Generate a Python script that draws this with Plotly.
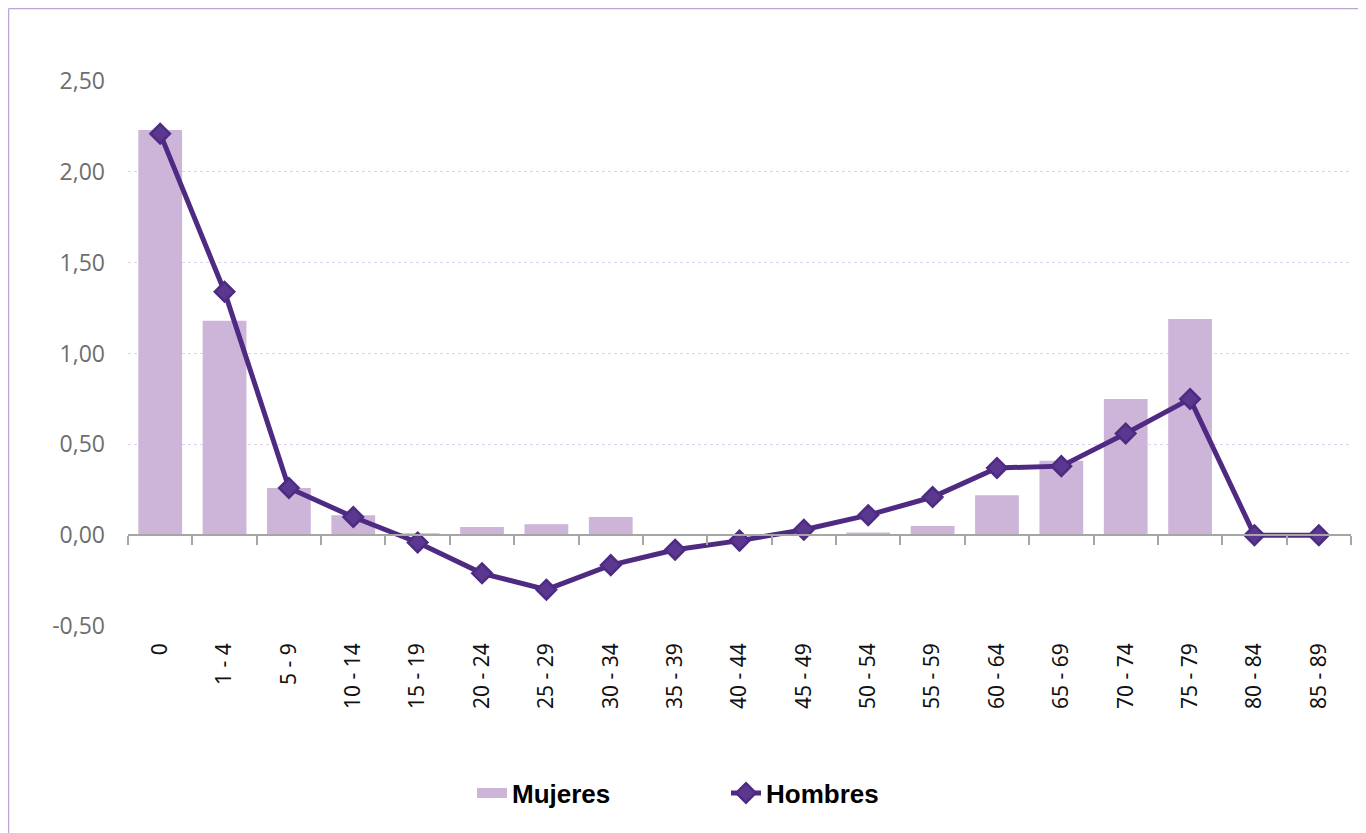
import plotly.graph_objects as go

categories = ["0", "1 - 4", "5 - 9", "10 - 14", "15 - 19", "20 - 24", "25 - 29", "30 - 34",
              "35 - 39", "40 - 44", "45 - 49", "50 - 54", "55 - 59", "60 - 64", "65 - 69",
              "70 - 74", "75 - 79", "80 - 84", "85 - 89"]
mujeres = [2.23, 1.18, 0.26, 0.11, 0.01, 0.045, 0.06, 0.10, 0.0, 0.0, 0.005, 0.015, 0.05,
           0.22, 0.41, 0.75, 1.19, 0.0, 0.0]
hombres = [2.21, 1.34, 0.26, 0.10, -0.04, -0.21, -0.30, -0.165, -0.08, -0.03, 0.03, 0.11,
           0.21, 0.37, 0.38, 0.56, 0.75, 0.0, 0.0]
y_ticks = [-0.5, 0.0, 0.5, 1.0, 1.5, 2.0, 2.5]
y_labels = ["-0,50", "0,00", "0,50", "1,00", "1,50", "2,00", "2,50"]

BAR = "#CDB5D9"
LINE = "#4E2A82"

# page body adds an 8px offset; compensate
OFF = 8
W, H = 1366 - OFF, 833 - OFF
ml, mr, mt, mb = 128 - OFF, 15, 81 - OFF, 207
pw = W - ml - mr
ph = H - mt - mb

fig = go.Figure()
fig.add_trace(go.Bar(x=categories, y=mujeres, name="Mujeres", showlegend=False,
                     marker=dict(color=BAR, line=dict(width=0))))
# legend entry for the bars (wide swatch)
fig.add_trace(go.Scatter(x=[None], y=[None], name="Mujeres", mode="lines",
                         line=dict(color=BAR, width=14)))
fig.add_trace(go.Scatter(x=categories, y=hombres, name="Hombres", mode="lines+markers",
                         line=dict(color=LINE, width=5),
                         marker=dict(symbol="diamond", size=15, color="#5A3890",
                                     line=dict(color=LINE, width=2.5))))
# helper trace for the zero-line category axis
fig.add_trace(go.Scatter(x=categories, y=[None] * len(categories), xaxis="x2", showlegend=False,
                         hoverinfo="skip"))

fig.update_layout(
    width=W, height=H,
    margin=dict(l=ml, r=mr, t=mt, b=mb),
    paper_bgcolor="white", plot_bgcolor="white",
    bargap=0.32,
    font=dict(family="Open Sans, Noto Sans, sans-serif"),
    xaxis=dict(type="category", categoryorder="array", categoryarray=categories,
               tickangle=-90, tickfont=dict(size=21, color="#111111", family="Noto Sans, sans-serif"),
               showgrid=False, showline=False, ticks="", zeroline=False, ticklabelstandoff=12,
               range=[-0.5, len(categories) - 0.5]),
    xaxis2=dict(type="category", categoryorder="array", categoryarray=categories,
                overlaying="x", matches="x", anchor="free", position=1 / 6,
                showticklabels=False, showline=True, linecolor="#A6A6A6", linewidth=1.5,
                ticks="outside", ticklen=9, tickcolor="#A6A6A6", tickwidth=1.5,
                tickson="boundaries", showgrid=False, zeroline=False),
    yaxis=dict(range=[-0.5, 2.5], tickvals=y_ticks, ticktext=y_labels,
               tickfont=dict(size=23, color="#6E6E6E"),
               showgrid=True, gridcolor="#E0D0EA", griddash="dot", gridwidth=1,
               zeroline=False, showline=False, ticks="", ticklabelstandoff=22),
    legend=dict(orientation="h", x=(472 - OFF - ml) / pw, xanchor="left",
                y=1 - (793 - OFF - mt) / ph, yanchor="middle",
                font=dict(size=26, color="#000000", family="Liberation Sans, Arial, sans-serif",
                          weight="bold"),
                entrywidth=209, traceorder="normal"),
    shapes=[
        dict(type="line", xref="paper", yref="paper",
             x0=(0.5 - ml) / pw, x1=(0.5 - ml) / pw, y0=1 + (mt - 0.5) / ph, y1=1 - (H + 10 - mt) / ph,
             line=dict(color="#B9A7D2", width=1.5)),
        dict(type="line", xref="paper", yref="paper",
             x0=(0.5 - ml) / pw, x1=(W + 10 - ml) / pw, y0=1 + (mt - 0.5) / ph, y1=1 + (mt - 0.5) / ph,
             line=dict(color="#B9A7D2", width=1.5)),
    ],
)

fig.write_html("out.html")
